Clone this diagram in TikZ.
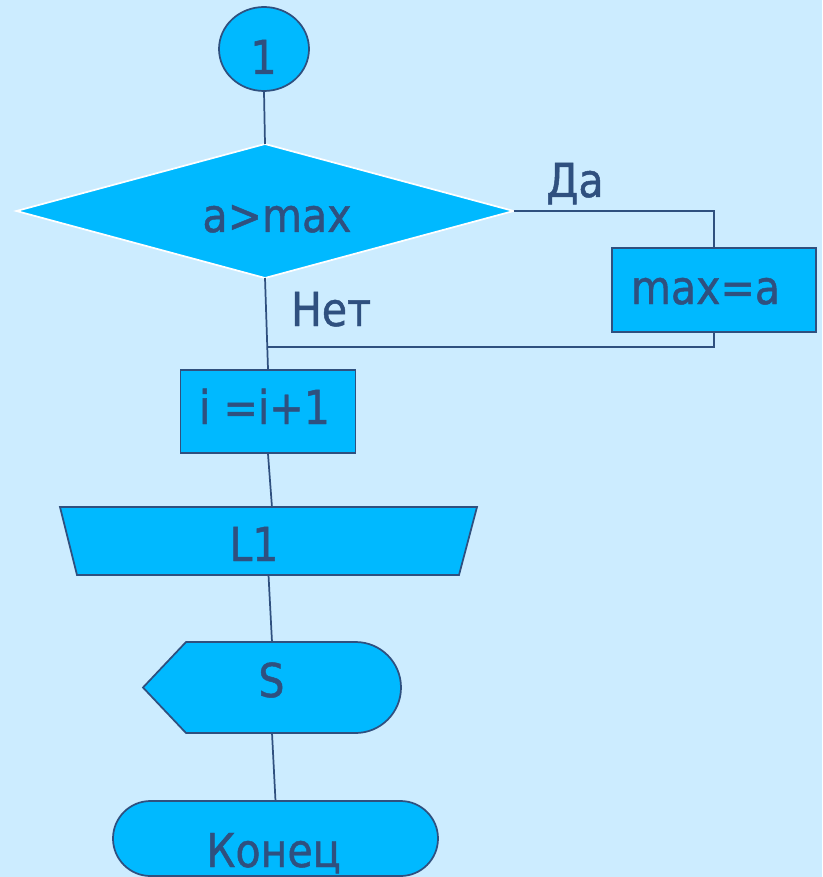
\documentclass[tikz,border=0pt]{standalone}
\usepackage{fontspec}
\setmainfont{DejaVu Sans}[FakeStretch=0.88,FakeBold=1]
\usetikzlibrary{shapes.geometric}
\definecolor{bg}{RGB}{204,236,255}
\definecolor{fillc}{RGB}{0,185,255}
\definecolor{ink}{RGB}{47,80,127}
\begin{document}
\begin{tikzpicture}[x=0.75pt,y=-0.75pt]
\tikzset{
  frame/.style={inner sep=0pt, outer sep=0pt, draw=none, shape=rectangle},
  shp/.style={fill=fillc, draw=ink, line width=1.3pt},
  conn/.style={draw=ink, line width=1.3pt},
  lbl/.style={text=ink, font=\fontsize{35}{40}\selectfont, inner sep=0pt, anchor=base}
}
\fill[bg] (0,0) rectangle (822,877);
\useasboundingbox (0,0) rectangle (822,877);

% connector circle
\node[shape=ellipse, shp, inner sep=0pt, minimum width=67.5pt, minimum height=63pt] (c1) at (264,49) {};
\node[lbl] (t1) at (263.5,74) {1};

% decision
\node[frame, minimum width=372.75pt, minimum height=100.5pt] (d) at (265,211) {};
\draw[fill=fillc, draw=white, line width=1.3pt] (d.north) -- (d.east) -- (d.south) -- (d.west) -- cycle;
\node[lbl] (td) at (277,232) {a>max};

% max=a
\node[shape=rectangle, shp, minimum width=153pt, minimum height=63pt] (mx) at (714,290) {};
\node[lbl] (tmx) at (705.5,304) {max=a};

% i=i+1
\node[shape=rectangle, shp, minimum width=131.25pt, minimum height=62.25pt] (i) at (268,411.5) {};
\node[lbl] (ti) at (264.5,424) {i =i+1};

% loop end L1
\node[frame, minimum width=312.75pt, minimum height=51pt] (L1) at (268.5,541) {};
\draw[shp] (L1.north west) -- (L1.north east) -- ([xshift=-13.5pt]L1.south east) -- ([xshift=12.75pt]L1.south west) -- cycle;
\node[lbl] (tL1) at (254,561) {L1};

% display S
\node[frame, minimum width=193.5pt, minimum height=68.25pt] (S) at (272,687.5) {};
\draw[shp] (S.west) -- ([xshift=32.25pt]S.north west) -- ([xshift=-34.125pt]S.north east)
  arc[start angle=90, end angle=-90, radius=34.125pt] -- ([xshift=32.25pt]S.south west) -- cycle;
\node[lbl] (tS) at (271.5,697) {S};

% terminal
\node[frame, minimum width=243.75pt, minimum height=56.25pt] (E) at (275.5,838.5) {};
\draw[shp] ([xshift=28.125pt]E.north west) -- ([xshift=-28.125pt]E.north east)
  arc[start angle=90, end angle=-90, radius=28.125pt] -- ([xshift=28.125pt]E.south west)
  arc[start angle=270, end angle=90, radius=28.125pt] -- cycle;
\node[lbl] (tE) at (273.5,867) {Конец};

% connectors
\coordinate (m) at (266.5,347);
\draw[conn] (c1.south) -- (d.north);
\draw[conn] (d.east) -| (mx.north);
\draw[conn] (mx.south) |- (m);
\draw[conn] (d.south) -- (i.north);
\draw[conn] (i.south) -- ([xshift=2.6pt]L1.north);
\draw[conn] (L1.south) -- (S.north);
\draw[conn] (S.south) -- (E.north);

% branch labels
\node[lbl] (yes) at (575,197) {Да};
\node[lbl] (no) at (331,326) {Нет};
\end{tikzpicture}
\end{document}
